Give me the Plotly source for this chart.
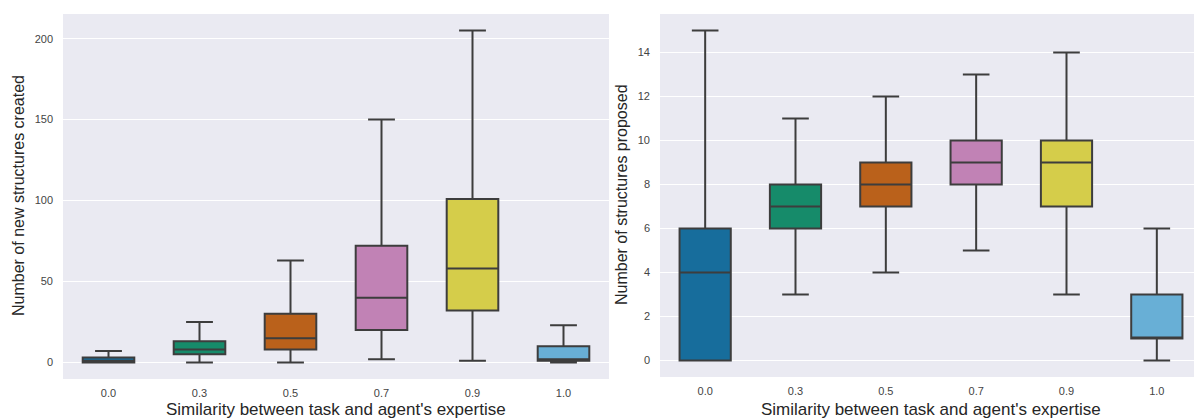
import plotly.graph_objects as go

# similarity levels on the x axis
levels = ["0.0", "0.3", "0.5", "0.7", "0.9", "1.0"]
colors = ["#176D9C", "#168B6A", "#BA611B", "#C182B5", "#D5CD4A", "#68AFD6"]

# left panel: number of new structures created
created_lo = [0, 0, 0, 2, 1, 0]
created_q1 = [0, 5, 8, 20, 32, 1]
created_med = [1, 8, 15, 40, 58, 2]
created_q3 = [3, 13, 30, 72, 101, 10]
created_hi = [7, 25, 63, 150, 205, 23]

# right panel: number of structures proposed
proposed_lo = [0, 3, 4, 5, 3, 0]
proposed_q1 = [0, 6, 7, 8, 7, 1]
proposed_med = [4, 7, 8, 9, 9, 1]
proposed_q3 = [6, 8, 9, 10, 10, 3]
proposed_hi = [15, 11, 12, 13, 14, 6]

W, H = 1194, 418
BG = "#EAEAF2"
EDGE = "#3d3d3d"
FONT = "Liberation Sans, Arial, sans-serif"

fig = go.Figure()


def add_boxes(lo, q1, med, q3, hi, xref, yref):
    for i, lev in enumerate(levels):
        fig.add_trace(go.Box(
            x=[lev],
            lowerfence=[lo[i]],
            q1=[q1[i]],
            median=[med[i]],
            q3=[q3[i]],
            upperfence=[hi[i]],
            fillcolor=colors[i],
            line={"color": EDGE, "width": 2},
            whiskerwidth=0.52,
            boxpoints=False,
            hoverinfo="skip",
            showlegend=False,
            xaxis=xref,
            yaxis=yref,
        ))


add_boxes(created_lo, created_q1, created_med, created_q3, created_hi, "x", "y")
add_boxes(proposed_lo, proposed_q1, proposed_med, proposed_q3, proposed_hi, "x2", "y2")

xcommon = dict(
    type="category",
    categoryorder="array",
    categoryarray=levels,
    showgrid=False,
    zeroline=False,
    showline=False,
    ticks="",
    ticklabelstandoff=6,
    tickfont={"size": 11, "color": "#444444", "family": FONT},
)
ycommon = dict(
    showgrid=True,
    gridcolor="white",
    gridwidth=1.2,
    zeroline=False,
    showline=False,
    ticks="",
    ticklabelstandoff=9,
    tickfont={"size": 11, "color": "#444444", "family": FONT},
)

x1 = (63 / W, 609 / W)
x2 = (660 / W, 1.0)
y1 = (1 - 379 / H, 1 - 14 / H)
y2 = (1 - 377 / H, 1 - 14 / H)


def label(text, x, y, angle=0, size=16):
    return dict(text=text, xref="paper", yref="paper", x=x / W, y=1 - y / H,
                xanchor="center", yanchor="middle", textangle=angle, showarrow=False,
                font={"size": size, "color": "#262626"})


fig.update_layout(
    width=W,
    height=H,
    margin={"l": 0, "r": 0, "t": 0, "b": 0},
    paper_bgcolor="white",
    plot_bgcolor=BG,
    boxmode="overlay",
    boxgap=0.19,
    font={"family": FONT, "color": "#262626"},
    xaxis=dict(xcommon, domain=x1, range=[-0.5, 5.5]),
    yaxis=dict(ycommon, domain=y1, range=[-10.25, 215.25], tickvals=[0, 50, 100, 150, 200]),
    xaxis2=dict(xcommon, domain=x2, range=[-0.5, 5.5 - 8 / 90.4], anchor="y2"),
    yaxis2=dict(ycommon, domain=y2, range=[-0.75, 15.75], tickvals=[0, 2, 4, 6, 8, 10, 12, 14], anchor="x2"),
    annotations=[
        label("Similarity between task and agent's expertise", 336, 409, size=17),
        label("Similarity between task and agent's expertise", 931, 409, size=17),
        label("Number of new structures created", 18, 196, -90),
        label("Number of structures proposed", 622, 195, -90),
    ],
)

fig.write_html("out.html", config={"displayModeBar": False},
               post_script="document.body.style.margin='0';")
